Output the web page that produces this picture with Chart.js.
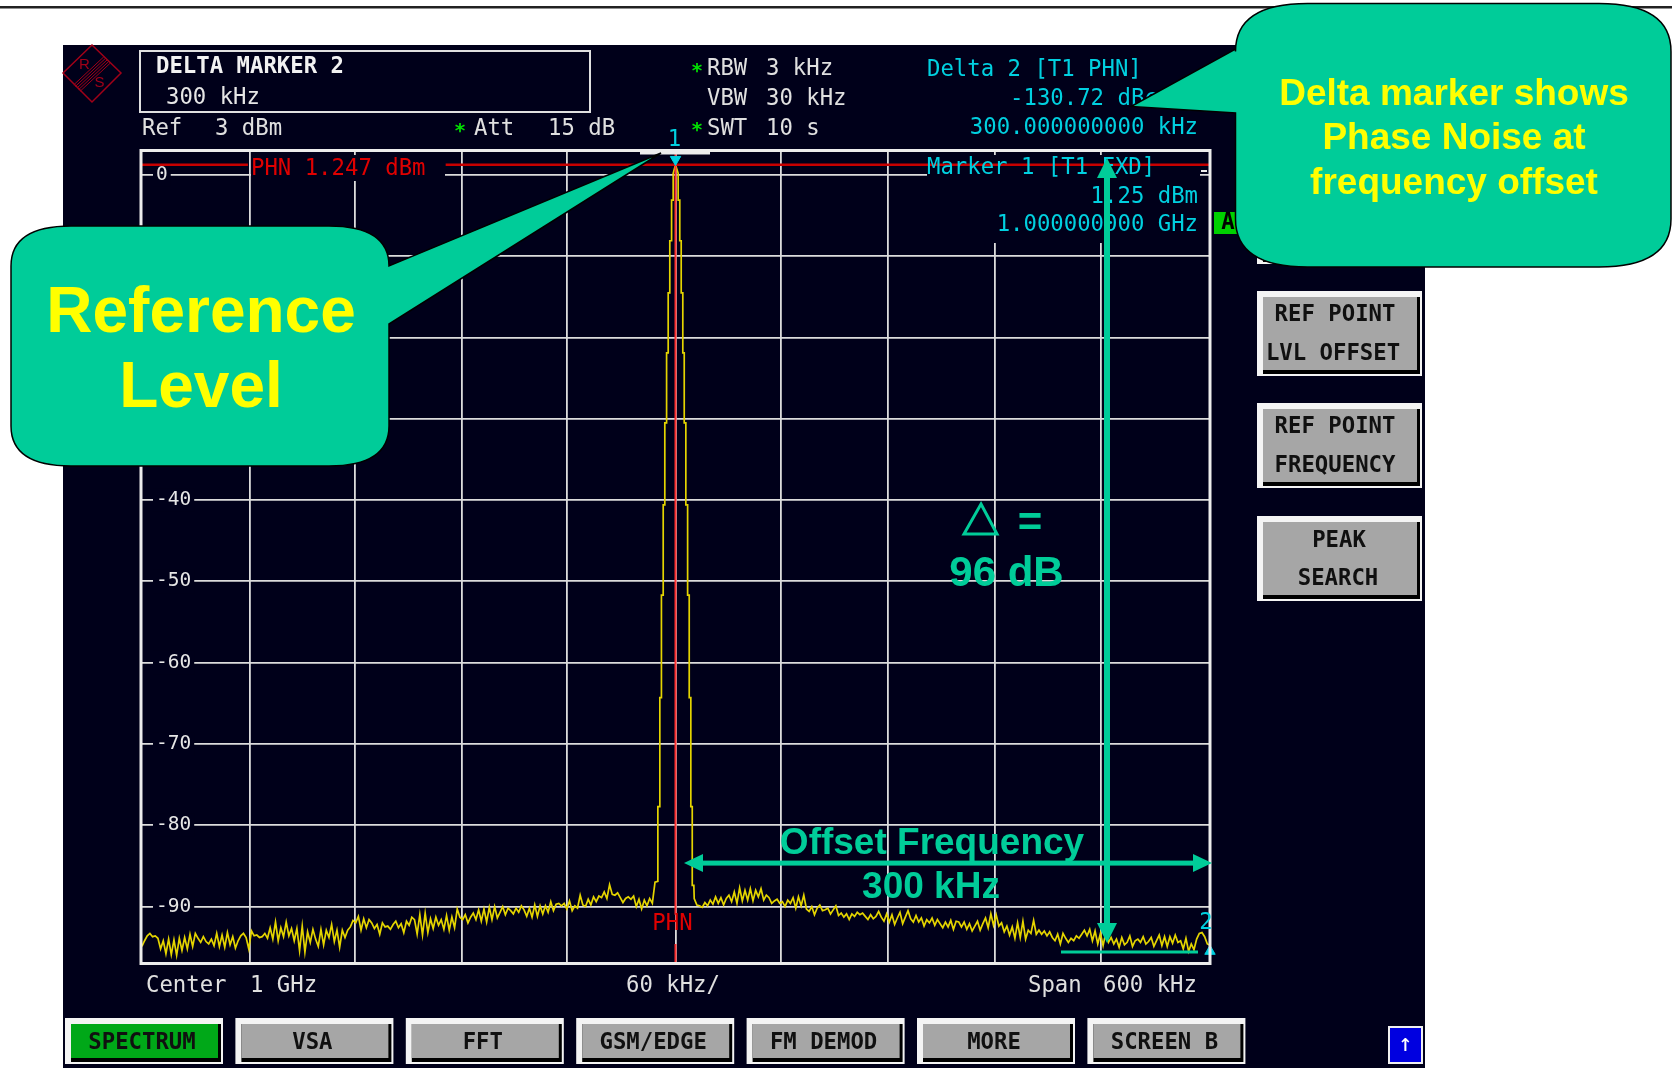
<!DOCTYPE html>
<html>
<head>
<meta charset="utf-8">
<title>Phase noise marker</title>
<script src="https://cdn.jsdelivr.net/npm/chart.js@4"></script>
<style>
  html, body { margin: 0; padding: 0; background: #fff; }
  canvas { display: block; }
</style>
</head>
<body>
<canvas id="mycanvas" width="1672" height="1068"></canvas>
<script>
// dBm
var levelTicks = [0, -10, -20, -30, -40, -50, -60, -70, -80, -90];
// the photographed graticule is slightly uneven, so these are as read and not a clean 60 kHz
var freqTicks = [-300, -239, -180, -120, -61, 0, 59, 119, 179, 239, 300];

// noise left of the carrier, one value every 1.5 kHz from -299.5 kHz
var noiseLeft = [
  -94.9,-94.2,-93.6,-93.3,-93.7,-93.6,-93.9,-95.2,-94.2,-95.8,
  -94.0,-95.9,-94.1,-96.0,-93.9,-95.4,-93.8,-95.2,-93.4,-94.9,
  -93.3,-93.9,-94.4,-93.7,-94.3,-94.6,-94.0,-94.8,-93.3,-94.9,
  -93.5,-95.0,-93.2,-94.7,-93.7,-95.1,-94.2,-93.6,-93.3,-93.8,
  -95.2,-93.0,-93.6,-93.5,-93.8,-93.7,-93.3,-93.9,-92.6,-94.0,
  -91.9,-94.2,-92.6,-93.7,-91.9,-93.6,-92.7,-94.2,-92.7,-95.4,
  -92.4,-95.6,-93.1,-94.4,-92.8,-94.0,-94.9,-92.8,-94.7,-92.9,
  -93.8,-92.2,-94.3,-92.9,-95.0,-92.9,-93.8,-92.9,-92.5,-91.7,
  -92.0,-91.2,-92.9,-91.5,-92.6,-91.6,-92.0,-92.7,-92.2,-93.4,
  -92.0,-92.5,-92.4,-92.8,-92.2,-91.8,-92.6,-92.1,-93.2,-91.8,
  -92.3,-91.3,-91.6,-93.4,-91.0,-93.5,-90.8,-93.2,-91.5,-92.7,
  -91.3,-92.3,-91.6,-92.8,-91.1,-92.9,-91.3,-92.6,-90.3,-91.3,
  -91.6,-91.0,-92.0,-91.3,-90.8,-91.6,-90.4,-91.8,-90.3,-91.9,
  -90.1,-91.6,-90.0,-91.4,-90.7,-90.0,-91.0,-90.2,-90.5,-90.9,
  -90.2,-90.7,-89.9,-90.4,-91.2,-90.2,-91.3,-89.8,-91.2,-89.9,
  -90.9,-89.9,-90.7,-89.4,-90.5,-89.7,-89.6,-89.9,-89.6,-90.3,
  -89.3,-90.5,-89.9,-90.2,-88.6,-89.8,-90.0,-89.1,-89.8,-88.8,
  -89.4,-88.7,-88.9,-88.2,-89.0,-87.3,-88.5,-88.6,-88.3,-88.9,
  -89.5,-89.0,-88.8,-89.1,-88.7,-90.0,-89.1,-90.3,-89.2,-89.9,
  -89.0,-89.6,-87.0
];

// carrier, the RBW filter staircase
var peakKhz = [-9.9,-9.9,-8.8,-8.8,-7.9,-7.9,-6.9,-6.9,-6.0,-6.0,-5.0,-5.0,-4.1,-4.1,-3.2,-3.2,-2.2,-2.2,-1.3,-1.3,
  0,
  1.5,1.5,2.4,2.4,3.2,3.2,4.1,4.1,4.9,4.9,5.8,5.8,6.8,6.8,7.7,7.7,8.6,8.6,9.4,9.4,10.3];
var peakDb = [-86.9,-77.7,-77.7,-64.3,-64.3,-51.7,-51.7,-40.6,-40.6,-30.5,-30.5,-21.9,-21.9,-14.5,-14.5,-8.1,-8.1,-3.1,-3.1,0.2,
  1.25,
  0.2,-3.1,-3.1,-8.1,-8.1,-14.5,-14.5,-21.9,-21.9,-30.5,-30.5,-40.6,-40.6,-51.7,-51.7,-64.3,-64.3,-77.7,-77.7,-87.4,-87.4];

// noise right of the carrier, one value every 1.5 kHz from 10.5 kHz
var noiseRight = [
  -89.0,-89.8,-89.9,-90.1,-89.5,-89.9,-89.2,-89.7,-88.8,-89.6,
  -88.9,-89.8,-89.0,-88.6,-89.4,-88.2,-89.6,-87.7,-89.3,-88.0,
  -89.2,-87.8,-89.3,-88.0,-88.8,-87.8,-89.2,-88.6,-88.9,-89.6,
  -89.3,-89.1,-89.6,-89.4,-90.0,-89.2,-89.6,-88.9,-90.2,-88.8,
  -89.9,-88.6,-90.3,-90.6,-90.0,-91.0,-90.2,-89.8,-90.5,-90.4,
  -90.2,-90.9,-90.4,-89.9,-91.1,-90.8,-91.3,-90.9,-91.6,-90.9,
  -91.2,-90.7,-91.0,-90.8,-91.2,-91.6,-91.0,-91.5,-91.2,-90.6,
  -91.3,-91.8,-90.9,-91.9,-91.0,-92.2,-91.4,-90.7,-92.1,-91.3,
  -90.5,-91.5,-91.9,-91.1,-91.9,-91.4,-92.4,-91.6,-92.0,-91.4,
  -92.3,-91.6,-92.1,-92.6,-91.9,-92.5,-91.7,-92.8,-91.8,-91.9,
  -92.5,-91.9,-92.8,-92.1,-93.0,-92.4,-91.8,-92.9,-92.1,-91.4,
  -92.6,-90.9,-92.3,-91.0,-92.4,-92.0,-93.1,-92.4,-93.5,-92.5,
  -93.9,-92.0,-93.8,-91.8,-94.0,-92.9,-93.3,-91.7,-93.4,-92.9,
  -93.4,-93.0,-93.6,-93.1,-93.8,-94.2,-93.4,-94.6,-93.3,-93.9,
  -94.4,-93.9,-94.2,-93.6,-93.9,-93.4,-92.9,-93.6,-92.8,-94.2,
  -93.0,-94.6,-93.3,-94.8,-93.2,-94.4,-93.8,-94.6,-94.0,-95.0,
  -93.8,-94.7,-94.4,-93.6,-94.9,-94.2,-94.0,-94.4,-93.7,-94.6,
  -94.3,-93.8,-94.9,-94.2,-93.5,-94.8,-93.7,-94.9,-93.7,-94.5,
  -93.5,-94.4,-94.2,-95.2,-93.9,-95.5,-94.6,-95.3,-94.0,-93.3,
  -93.2,-93.7,-94.6,-94.75
];

var phnLevel = 1.247;
var phnLineKhz = [-300, -240, null, -129, 300];
var phnCursorDb = [3, -91, null, -94.6, -97];
var markerKhz = [0, 300];
var markerDb = [1.9, -95.5];

var softkeysBottom = ["SPECTRUM", "VSA", "FFT", "GSM/EDGE", "FM DEMOD", "MORE", "SCREEN B"];

var screenBg = "#00001a";
var gridCol = "#dcdcdc";
var teal = "#00cc99";
var cyan = "#00d0e0";
var red = "#e00000";
var mono = '"DejaVu Sans Mono", monospace';
var sans = '"Liberation Sans", Arial, sans-serif';
var keyFont = "bold 22.3px " + mono;

var trace = [];
noiseLeft.forEach(function(v, i) { trace.push({x: -299.5 + i * 1.5, y: v}); });
peakKhz.forEach(function(k, i) { trace.push({x: k, y: peakDb[i]}); });
noiseRight.forEach(function(v, i) { trace.push({x: 10.5 + i * 1.5, y: v}); });

function text(ctx, s, x, y, col, font, align) {
  ctx.fillStyle = col;
  ctx.font = font || ("22.3px " + mono);
  ctx.textAlign = align || "left";
  ctx.textBaseline = "middle";
  ctx.fillText(s, x, y);
}

function softkey(ctx, x0, y0, x1, y1, face) {
  ctx.fillStyle = "#f4f4f4";
  ctx.fillRect(x0, y0, x1 - x0, y1 - y0);
  ctx.fillStyle = "#000";
  ctx.fillRect(x0 + 6, y0 + 6, x1 - x0 - 8, y1 - y0 - 8);
  ctx.fillStyle = face;
  ctx.fillRect(x0 + 6, y0 + 6, x1 - x0 - 11, y1 - y0 - 12);
}

// rounded box with a pointer, side is "left" or "right"
function callout(ctx, x0, y0, x1, y1, rx, ry, side, tip, baseA, baseB) {
  ctx.beginPath();
  ctx.moveTo(x0 + rx, y0);
  ctx.lineTo(x1 - rx, y0);
  ctx.quadraticCurveTo(x1, y0, x1, y0 + ry);
  if (side == "right") {
    ctx.lineTo(x1, baseA);
    ctx.lineTo(tip[0], tip[1]);
    ctx.lineTo(x1, baseB);
  }
  ctx.lineTo(x1, y1 - ry);
  ctx.quadraticCurveTo(x1, y1, x1 - rx, y1);
  ctx.lineTo(x0 + rx, y1);
  ctx.quadraticCurveTo(x0, y1, x0, y1 - ry);
  if (side == "left") {
    ctx.lineTo(x0, baseB);
    ctx.lineTo(tip[0], tip[1]);
    ctx.lineTo(x0, baseA);
  }
  ctx.lineTo(x0, y0 + ry);
  ctx.quadraticCurveTo(x0, y0, x0 + rx, y0);
  ctx.closePath();
  ctx.fillStyle = teal;
  ctx.fill();
  ctx.strokeStyle = "#000";
  ctx.lineWidth = 1.5;
  ctx.stroke();
}

function arrowHead(ctx, tx, ty, dx, dy, len, half) {
  ctx.beginPath();
  ctx.moveTo(tx, ty);
  ctx.lineTo(tx - dx * len - dy * half, ty - dy * len - dx * half);
  ctx.lineTo(tx - dx * len + dy * half, ty - dy * len + dx * half);
  ctx.closePath();
  ctx.fill();
}

function drawLogo(ctx) {
  ctx.strokeStyle = "#a00018";
  ctx.lineWidth = 1.5;
  ctx.beginPath();
  ctx.moveTo(92, 45); ctx.lineTo(121, 73); ctx.lineTo(92, 102); ctx.lineTo(63, 73);
  ctx.closePath();
  ctx.stroke();
  ctx.lineWidth = 1;
  for (var i = -2; i <= 2; i++) {
    ctx.beginPath();
    ctx.moveTo(77 + i * 1.6, 88 + i * 1.6);
    ctx.lineTo(107 + i * 1.6, 60 + i * 1.6);
    ctx.stroke();
  }
  text(ctx, "R", 84.5, 65, "#a00018", "15px " + sans, "center");
  text(ctx, "S", 99.5, 83, "#a00018", "15px " + sans, "center");
}

var screenPlugin = {
  id: "screen",
  beforeDraw: function(chart) {
    var ctx = chart.ctx;
    ctx.save();
    ctx.fillStyle = "#fff";
    ctx.fillRect(0, 0, 1672, 1068);
    ctx.fillStyle = "#222";
    ctx.fillRect(0, 6, 1672, 2.5);
    ctx.fillStyle = screenBg;
    ctx.fillRect(63, 45, 1362, 1023);
    ctx.restore();
  },
  beforeDatasetsDraw: function(chart) {
    // text fields blank out the graticule
    var ctx = chart.ctx;
    ctx.save();
    ctx.fillStyle = screenBg;
    ctx.fillRect(251, 155, 194, 26);
    ctx.fillRect(927, 155, 273, 88);
    ctx.restore();
  },
  afterDatasetsDraw: function(chart) {
    var ctx = chart.ctx;
    var a = chart.chartArea;
    var px = function(v) { return chart.scales.x.getPixelForValue(v); };
    var py = function(v) { return chart.scales.y.getPixelForValue(v); };
    ctx.save();

    // graticule frame and display line flag
    ctx.strokeStyle = "#ececec";
    ctx.lineWidth = 3;
    ctx.strokeRect(a.left, a.top, a.right - a.left, a.bottom - a.top);
    ctx.fillStyle = "#ececec";
    ctx.fillRect(640, a.top, 70, 4);
    ctx.fillRect(1201, 170, 6, 2);

    // header
    drawLogo(ctx);
    ctx.strokeStyle = "#e0e0e0";
    ctx.lineWidth = 2;
    ctx.strokeRect(140, 51, 450, 61);
    text(ctx, "DELTA MARKER 2", 156, 67, "#f2f2f2", "bold 22.3px " + mono);
    text(ctx, "300 kHz", 166, 98, "#e6e6e6");
    text(ctx, "Ref", 142, 129, "#e0e0e0");
    text(ctx, "3 dBm", 215, 129, "#e0e0e0");
    text(ctx, "*", 460, 132, "#00e000", "bold 20px " + mono, "center");
    text(ctx, "Att", 474, 129, "#e0e0e0");
    text(ctx, "15 dB", 548, 129, "#e0e0e0");
    text(ctx, "*", 697, 72, "#00e000", "bold 20px " + mono, "center");
    text(ctx, "RBW", 707, 69, "#e0e0e0");
    text(ctx, "3 kHz", 766, 69, "#e0e0e0");
    text(ctx, "VBW", 707, 99, "#e0e0e0");
    text(ctx, "30 kHz", 766, 99, "#e0e0e0");
    text(ctx, "*", 697, 131, "#00e000", "bold 20px " + mono, "center");
    text(ctx, "SWT", 707, 129, "#e0e0e0");
    text(ctx, "10 s", 766, 129, "#e0e0e0");

    // marker readouts
    text(ctx, "Delta 2 [T1 PHN]", 927, 70, cyan);
    text(ctx, "-130.72 dBc/Hz", 1198, 99, cyan, null, "right");
    text(ctx, "300.000000000 kHz", 1198, 128.5, cyan, null, "right");
    text(ctx, "Marker 1 [T1 FXD]", 927, 168.5, cyan);
    text(ctx, "1.25 dBm", 1198, 197, cyan, null, "right");
    text(ctx, "1.000000000 GHz", 1198, 225, cyan, null, "right");
    text(ctx, "1", px(0) - 1, 140, cyan, null, "center");
    text(ctx, "2", 1206, 923, cyan, null, "center");
    text(ctx, "PHN 1.247 dBm", 251, 169.5, red);
    text(ctx, "PHN", px(0) - 3, 924, red, null, "center");

    ctx.fillStyle = "#00d000";
    ctx.fillRect(1214, 212, 26, 22);
    text(ctx, "A", 1228, 223, "#000", keyFont, "center");

    // footer
    text(ctx, "Center", 146, 986, "#e0e0e0");
    text(ctx, "1 GHz", 250, 986, "#e0e0e0");
    text(ctx, "60 kHz/", 626, 986, "#e0e0e0");
    text(ctx, "Span", 1028, 986, "#e0e0e0");
    text(ctx, "600 kHz", 1103, 986, "#e0e0e0");

    // softkeys
    softkeysBottom.forEach(function(name, i) {
      var x0 = 65 + i * 170.4;
      softkey(ctx, x0, 1018, x0 + 158, 1064, i == 0 ? "#00a818" : "#a6a6a6");
      text(ctx, name, x0 + 77, 1043, "#101010", keyFont, "center");
    });
    softkey(ctx, 1257, 178, 1422, 264, "#a6a6a6");
    softkey(ctx, 1257, 291, 1422, 376, "#a6a6a6");
    text(ctx, "REF POINT", 1335, 315, "#101010", keyFont, "center");
    text(ctx, "LVL OFFSET", 1333, 354, "#101010", keyFont, "center");
    softkey(ctx, 1257, 403, 1422, 488, "#a6a6a6");
    text(ctx, "REF POINT", 1335, 427, "#101010", keyFont, "center");
    text(ctx, "FREQUENCY", 1335, 466, "#101010", keyFont, "center");
    softkey(ctx, 1257, 516, 1422, 601, "#a6a6a6");
    text(ctx, "PEAK", 1339, 541, "#101010", keyFont, "center");
    text(ctx, "SEARCH", 1338, 579, "#101010", keyFont, "center");

    ctx.fillStyle = "#f0f0f0";
    ctx.fillRect(1388, 1026, 35, 38);
    ctx.fillStyle = "#0000e0";
    ctx.fillRect(1390, 1028, 31, 34);
    text(ctx, "\u2191", 1405.5, 1045, "#fff", "24px " + mono, "center");

    // slide annotations on top of the screenshot
    ctx.fillStyle = teal;
    ctx.strokeStyle = teal;
    var arrowY = py(-84.65);
    ctx.fillRect(700, arrowY - 2.5, 495, 5);
    arrowHead(ctx, 684, arrowY, -1, 0, 19, 9);
    arrowHead(ctx, 1212, arrowY, 1, 0, 19, 9);
    var arrowX = 1107;
    ctx.fillRect(arrowX - 3, 175, 6, 752);
    arrowHead(ctx, arrowX, 158, 0, -1, 20, 10);
    arrowHead(ctx, arrowX, 943, 0, 1, 20, 10);
    ctx.fillRect(1061, 950.5, 137, 3);

    ctx.lineWidth = 3;
    ctx.beginPath();
    ctx.moveTo(981, 504); ctx.lineTo(997, 534); ctx.lineTo(964, 534);
    ctx.closePath();
    ctx.stroke();
    text(ctx, "=", 1030, 524, teal, "bold 42px " + sans, "center");
    text(ctx, "96 dB", 1006.5, 574, teal, "bold 42px " + sans, "center");
    text(ctx, "Offset Frequency", 932, 844, teal, "bold 37px " + sans, "center");
    text(ctx, "300 kHz", 931, 888, teal, "bold 37px " + sans, "center");

    callout(ctx, 11, 226, 389, 466, 60, 40, "right", [661, 153], 266, 324);
    ctx.textAlign = "center";
    ctx.textBaseline = "alphabetic";
    ctx.fillStyle = "#ffff00";
    ctx.font = "bold 64px " + sans;
    ctx.fillText("Reference", 201, 332);
    ctx.fillText("Level", 201, 407);

    callout(ctx, 1235.5, 3.5, 1671, 267, 72, 48, "left", [1131, 106.5], 49, 113);
    ctx.fillStyle = "#ffff00";
    ctx.font = "bold 37px " + sans;
    ctx.fillText("Delta marker shows", 1454, 105);
    ctx.fillText("Phase Noise at", 1454, 149);
    ctx.fillText("frequency offset", 1454, 194);

    ctx.restore();
  }
};

var ctx = document.getElementById("mycanvas").getContext("2d");
var specChart = new Chart(ctx, {
  type: "line",
  data: {
    datasets: [
      {
        data: markerKhz.map(function(k, i) { return {x: k, y: markerDb[i]}; }),
        showLine: false,
        pointStyle: "triangle",
        pointRadius: 6,
        pointRotation: [180, 0],
        pointBackgroundColor: cyan,
        pointBorderColor: cyan,
        clip: false
      },
      {
        data: phnCursorDb.map(function(v) { return {x: 0, y: v}; }),
        borderColor: "#ff3030",
        borderWidth: 2,
        pointRadius: 0,
        fill: false
      },
      {
        data: phnLineKhz.map(function(k) { return {x: k, y: k === null ? null : phnLevel}; }),
        borderColor: "#c80000",
        borderWidth: 2.4,
        pointRadius: 0,
        fill: false
      },
      {
        data: trace,
        borderColor: "#e4d400",
        borderWidth: 1.7,
        pointRadius: 0,
        tension: 0,
        fill: false
      }
    ]
  },
  options: {
    animation: false,
    responsive: false,
    events: [],
    layout: {padding: {left: 141, top: 150.5, right: 462, bottom: 104.5}},
    plugins: {legend: {display: false}, tooltip: {enabled: false}},
    scales: {
      x: {
        type: "linear",
        min: -300,
        max: 300,
        afterBuildTicks: function(axis) {
          axis.ticks = freqTicks.map(function(v) { return {value: v}; });
        },
        grid: {color: gridCol, lineWidth: 1.8, drawTicks: false, tickLength: 0},
        border: {display: false},
        ticks: {display: false}
      },
      y: {
        type: "linear",
        min: -97,
        max: 3,
        afterBuildTicks: function(axis) {
          axis.ticks = levelTicks.map(function(v) { return {value: v}; });
        },
        afterFit: function(axis) { axis.width = 0; },
        grid: {color: gridCol, lineWidth: 1.8, drawTicks: false, tickLength: 0},
        border: {display: false},
        ticks: {
          mirror: true,
          padding: 15,
          color: "#e6e6e6",
          font: {family: "DejaVu Sans Mono", size: 19.5},
          showLabelBackdrop: true,
          backdropColor: screenBg,
          backdropPadding: {left: 3, right: 3, top: 0, bottom: 0},
          callback: function(v) { return String(v); }
        }
      }
    }
  },
  plugins: [screenPlugin]
});
</script>
</body>
</html>
